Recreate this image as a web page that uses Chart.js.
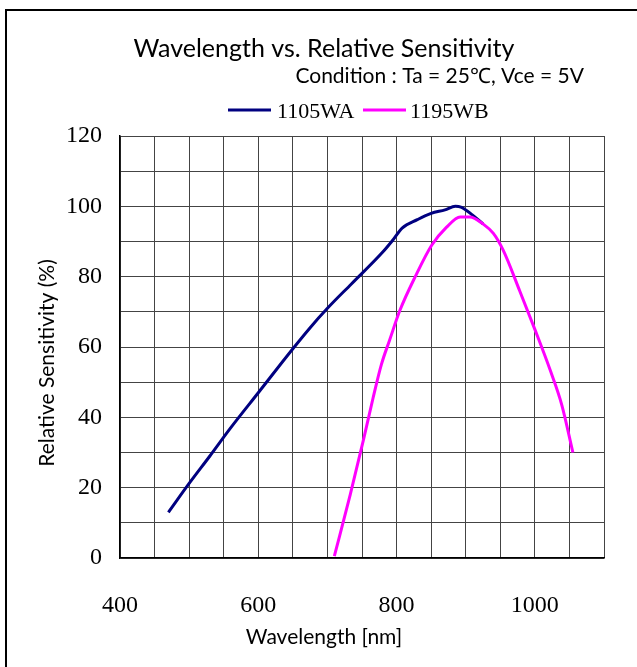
<!DOCTYPE html>
<html>
<head>
<meta charset="utf-8">
<script src="https://cdn.jsdelivr.net/npm/chart.js@4.4.0/dist/chart.umd.min.js"></script>
<style>
  html, body { margin: 0; padding: 0; background: #fff; overflow: hidden; }
  #wrap { position: relative; width: 637px; height: 667px; }
  #frame { position: absolute; left: 5px; top: 9px; width: 700px; height: 700px; border: 2px solid #000; box-sizing: border-box; }
</style>
</head>
<body>
<div id="wrap">
  <div id="frame"></div>
  <canvas id="myChart" width="637" height="667"></canvas>
</div>
<script>
const waWavelength = [470, 500, 530, 560, 600, 650, 675, 700, 735, 780, 795, 808, 830, 850, 870, 885, 893, 910, 925];
const waSensitivity = [13, 21.2, 29, 37, 47, 59.5, 65.5, 71, 78, 87, 90.5, 93.8, 96.2, 98, 99, 100, 99.8, 97.5, 95];

const wbWavelength = [710, 733, 752, 766, 778, 790, 805, 827, 851, 872, 892, 906, 925, 940, 954, 978, 1000, 1022, 1039, 1055];
const wbSensitivity = [0.5, 18, 33.5, 45.5, 55, 62, 70.5, 80, 89, 94, 97, 97, 95, 92.3, 87.6, 76, 65, 53.5, 43.5, 30];

const seriesNames = ['1105WA', '1195WB'];
const seriesColors = ['#000080', '#FF00FF'];

const xTickLabels = [400, 600, 800, 1000];
const yTickLabels = [0, 20, 40, 60, 80, 100, 120];

const titleText = 'Wavelength vs. Relative Sensitivity';
const subtitleText = 'Condition : Ta = 25\u2103, Vce = 5V';
const xAxisTitle = 'Wavelength [nm]';
const yAxisTitle = 'Relative Sensitivity (%)';

function toPoints(xs, ys) {
  return xs.map((x, i) => ({ x: x, y: ys[i] }));
}

// Titel, Bedingung, Legende und Achsentitel
const headerPlugin = {
  id: 'header',
  afterDraw(chart) {
    const ctx = chart.ctx;
    ctx.save();
    ctx.fillStyle = '#000';
    ctx.textBaseline = 'alphabetic';
    ctx.textAlign = 'center';
    ctx.font = '25px Lato';
    ctx.fillText(titleText, 324, 57);
    ctx.textAlign = 'right';
    ctx.font = '21px Lato';
    ctx.fillText(subtitleText, 584, 83);

    const items = [[228, 277], [363, 410]];
    chart.data.datasets.forEach((ds, i) => {
      const [lx, tx] = items[i];
      ctx.strokeStyle = ds.borderColor;
      ctx.lineWidth = 3;
      ctx.beginPath();
      ctx.moveTo(lx, 110);
      ctx.lineTo(lx + 43, 110);
      ctx.stroke();
      ctx.textAlign = 'left';
      ctx.font = '22px "Liberation Serif"';
      ctx.fillText(ds.label, tx, 118);
    });

    ctx.textAlign = 'center';
    ctx.textBaseline = 'middle';
    ctx.font = '21px Lato';
    ctx.fillText(xAxisTitle, 324, 637);
    ctx.translate(47, 363);
    ctx.rotate(-Math.PI / 2);
    ctx.fillText(yAxisTitle, 0, 0);
    ctx.restore();
  }
};

const ctx = document.getElementById('myChart').getContext('2d');
const chart = new Chart(ctx, {
  type: 'scatter',
  data: {
    datasets: [
      {
        label: seriesNames[0],
        data: toPoints(waWavelength, waSensitivity),
        borderColor: seriesColors[0],
        backgroundColor: seriesColors[0],
        showLine: true,
        borderWidth: 3,
        pointRadius: 0,
        cubicInterpolationMode: 'monotone',
        order: 1
      },
      {
        label: seriesNames[1],
        data: toPoints(wbWavelength, wbSensitivity),
        borderColor: seriesColors[1],
        backgroundColor: seriesColors[1],
        showLine: true,
        borderWidth: 3,
        pointRadius: 0,
        cubicInterpolationMode: 'monotone',
        order: 0
      }
    ]
  },
  options: {
    responsive: false,
    animation: false,
    layout: { padding: { top: 136, right: 33, left: 0, bottom: 0 } },
    plugins: {
      legend: { display: false },
      title: { display: false },
      tooltip: { enabled: false }
    },
    scales: {
      x: {
        type: 'linear',
        min: 400,
        max: 1100,
        afterFit: s => { s.height = 109; },
        grid: { color: '#444', lineWidth: 1, drawTicks: false },
        border: { color: '#000', width: 1.5 },
        ticks: {
          stepSize: 50,
          autoSkip: false,
          maxRotation: 0,
          padding: 33,
          color: '#000',
          font: { family: 'Liberation Serif', size: 24 },
          callback: v => xTickLabels.includes(v) ? String(v) : ''
        }
      },
      y: {
        min: 0,
        max: 120,
        afterFit: s => { s.width = 120; },
        grid: { color: '#444', lineWidth: 1, drawTicks: false },
        border: { color: '#000', width: 1.5 },
        ticks: {
          stepSize: 10,
          autoSkip: false,
          padding: 18,
          color: '#000',
          font: { family: 'Liberation Serif', size: 24 },
          callback: v => yTickLabels.includes(v) ? String(v) : ''
        }
      }
    }
  },
  plugins: [headerPlugin]
});
</script>
</body>
</html>
